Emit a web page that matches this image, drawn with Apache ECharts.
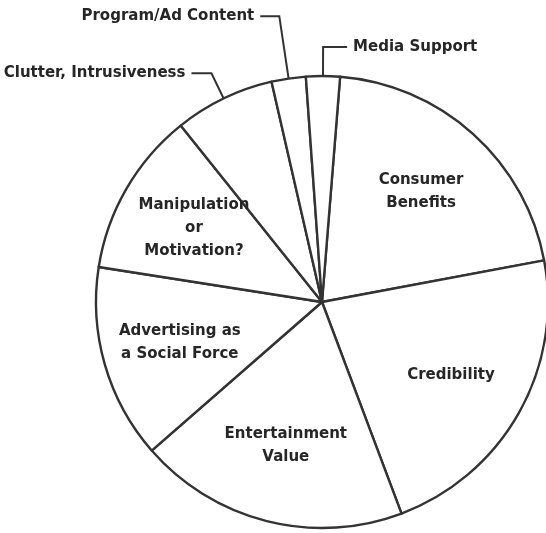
<!DOCTYPE html>
<html>
<head>
<meta charset="utf-8">
<script src="https://cdn.jsdelivr.net/npm/echarts@6/dist/echarts.min.js"></script>
<style>
  html, body { margin: 0; padding: 0; background: #fff; }
  #chart { width: 546px; height: 533px; }
</style>
</head>
<body>
<div id="chart"></div>
<script>
const categories = ['Consumer\nBenefits', 'Credibility', 'Entertainment\nValue', 'Advertising as\na Social Force',
    'Manipulation\nor\nMotivation?', 'Clutter, Intrusiveness', 'Program/Ad Content', 'Media Support'];
const values = [74.8, 80.0, 69.5, 50.0, 42.4, 25.8, 8.8, 8.7];
// slices labelled outside with a leader line
const outsideLabels = ['Clutter, Intrusiveness', 'Program/Ad Content', 'Media Support'];

const ink = '#333';
const textStyle = {
    color: '#262626',
    fontFamily: 'DejaVu Sans',
    fontWeight: 'bold',
    fontSize: 15,
    lineHeight: 23
};
const leaders = {
    'Clutter, Intrusiveness': { length: 28, length2: 20 },
    'Program/Ad Content': { length: 63, length2: 19 },
    'Media Support': { length: 29, length2: 24 }
};

const chart = echarts.init(document.getElementById('chart'));
const center = [322, 302],
    radius = 226,
    startAngle = 85.4;

chart.setOption({
    animation: false,
    series: [
        {
            type: 'pie',
            center: center,
            radius: radius,
            startAngle: startAngle,
            clockwise: true,
            avoidLabelOverlap: false,
            itemStyle: { color: '#fff', borderColor: ink, borderWidth: 2.4 },
            emphasis: { disabled: true },
            label: { show: false },
            labelLine: { show: false },
            data: categories.map((name, i) => {
                const outside = outsideLabels.indexOf(name) >= 0;
                return {
                    name: name,
                    value: values[i],
                    label: Object.assign({ show: outside, position: 'outside', distanceToLabelLine: 6 }, textStyle),
                    labelLine: outside ? Object.assign({
                        show: true,
                        smooth: false,
                        lineStyle: { color: ink, width: 2 }
                    }, leaders[name]) : { show: false }
                };
            })
        },
        {
            // transparent ring, only used to put the inside labels at ~65% of the radius
            type: 'pie',
            center: center,
            radius: [64, radius],
            startAngle: startAngle,
            clockwise: true,
            silent: true,
            avoidLabelOverlap: false,
            itemStyle: { color: 'rgba(0,0,0,0)', borderWidth: 0 },
            label: Object.assign({ show: true, position: 'inside' }, textStyle),
            labelLine: { show: false },
            data: categories.map((name, i) => ({
                name: name,
                value: values[i],
                label: { show: outsideLabels.indexOf(name) < 0 }
            }))
        }
    ]
});
</script>
</body>
</html>
